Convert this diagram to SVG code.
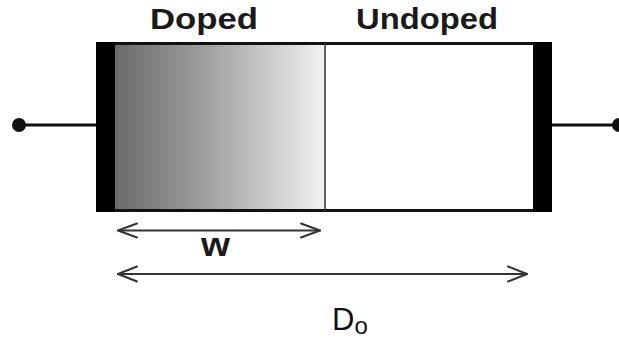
<svg xmlns="http://www.w3.org/2000/svg" width="619" height="344" viewBox="0 0 619 344">
<style>
.lbl{font-family:"Liberation Sans",Arial,sans-serif;font-weight:bold;fill:#1a1a1a}
.dim{stroke:#333;stroke-width:2;fill:none;stroke-linecap:round;stroke-linejoin:round}
.wire{stroke:#111;stroke-width:3}
</style>
<defs>
<linearGradient id="g" x1="0" y1="0" x2="1" y2="0">
<stop offset="0" stop-color="#6a6a6a"/>
<stop offset="0.5" stop-color="#a9a9a9"/>
<stop offset="1" stop-color="#f2f2f2"/>
</linearGradient>
</defs>
<rect width="619" height="344" fill="#fff"/>
<g id="connectors">
<line class="wire" x1="19" y1="125" x2="97" y2="125"/>
<circle cx="19" cy="125" r="7" fill="#111"/>
<line class="wire" x1="551" y1="125" x2="619" y2="125"/>
<circle cx="619" cy="125" r="7" fill="#111"/>
</g>
<g id="device">
<rect x="115" y="43.5" width="210" height="167" fill="url(#g)"/>
<rect x="325" y="43.5" width="208" height="167" fill="#fff"/>
<line x1="96" y1="43.5" x2="552" y2="43.5" stroke="#111" stroke-width="3"/>
<line x1="96" y1="210.5" x2="552" y2="210.5" stroke="#111" stroke-width="3"/>
<line x1="325" y1="43" x2="325" y2="211" stroke="#333" stroke-width="1.5"/>
<rect x="96" y="42" width="19" height="170" fill="#000"/>
<rect x="533" y="42" width="19" height="170" fill="#000"/>
</g>
<g id="labels">
<text class="lbl" x="150" y="28.5" font-size="29" textLength="108" lengthAdjust="spacingAndGlyphs">Doped</text>
<text class="lbl" x="356" y="28.5" font-size="29" textLength="142" lengthAdjust="spacingAndGlyphs">Undoped</text>
</g>
<g id="dim-w">
<line class="dim" x1="118" y1="230.5" x2="320" y2="230.5"/>
<polyline class="dim" points="137,223.5 118,230.5 137,237.5"/>
<polyline class="dim" points="301,223.5 320,230.5 301,237.5"/>
<text class="lbl" x="201" y="256" font-size="34" textLength="29" lengthAdjust="spacingAndGlyphs">w</text>
</g>
<g id="dim-d">
<line class="dim" x1="118" y1="274" x2="527" y2="274"/>
<polyline class="dim" points="137,266.5 118,274 137,281.5"/>
<polyline class="dim" points="508,266.5 527,274 508,281.5"/>
<text x="332" y="330" font-family="'Liberation Sans',Arial,sans-serif" font-size="31" fill="#111">D<tspan font-size="24" dy="4">o</tspan></text>
</g>
</svg>
